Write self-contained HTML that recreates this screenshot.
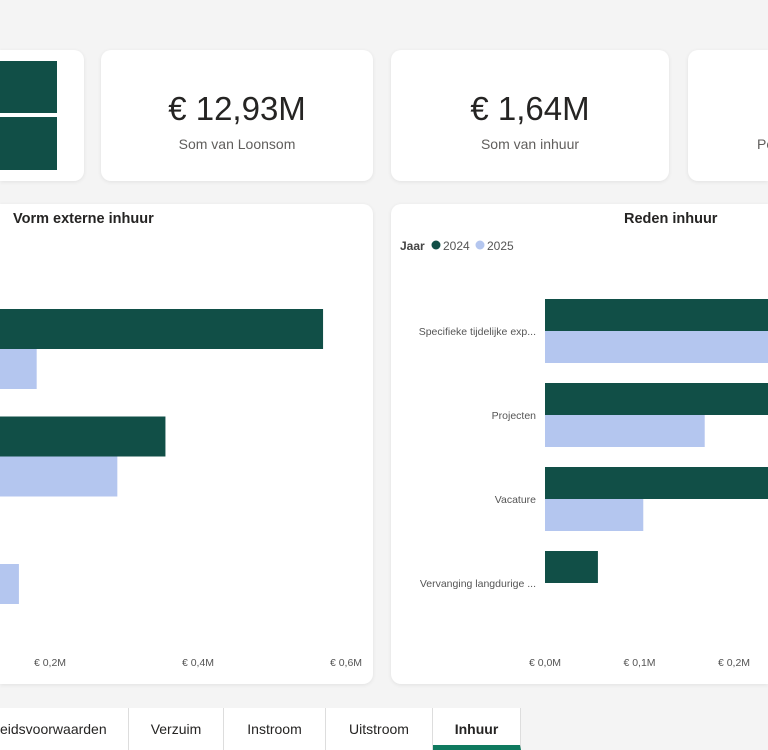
<!DOCTYPE html>
<html><head><meta charset="utf-8"><style>
body{margin:0;width:768px;height:750px;overflow:hidden;background:#f4f4f4;font-family:"Liberation Sans",sans-serif;position:relative}
.card{position:absolute;background:#fff;border-radius:10px;box-shadow:0 1px 4px rgba(0,0,0,0.08);overflow:hidden}
.big{position:absolute;width:100%;text-align:center;top:40px;font-size:33px;color:#252423}
.sub{position:absolute;width:100%;text-align:center;top:86px;font-size:14px;color:#605e5c}
.tab{position:absolute;top:708px;height:42px;line-height:42px;text-align:center;font-size:14px;color:#252423;background:#fff;border-right:1px solid #ddd;box-sizing:border-box;overflow:hidden;white-space:nowrap}
</style></head><body>
<div class="card" style="left:0;top:50px;width:84px;height:131px;border-radius:0 10px 10px 0">
 <div style="position:absolute;left:0;top:11px;width:57px;height:52px;background:#114f47"></div>
 <div style="position:absolute;left:0;top:67px;width:57px;height:53px;background:#114f47"></div>
</div>
<div class="card" style="left:101px;top:50px;width:272px;height:131px"><div class="big">€ 12,93M</div><div class="sub">Som van Loonsom</div></div>
<div class="card" style="left:391px;top:50px;width:278px;height:131px"><div class="big">€ 1,64M</div><div class="sub">Som van inhuur</div></div>
<div class="card" style="left:688px;top:50px;width:80px;height:131px;border-radius:10px 0 0 10px"><div class="sub" style="left:69px;text-align:left">Pe</div></div>
<div class="card" style="left:0;top:204px;width:373px;height:480px;border-radius:0 10px 10px 0"></div>
<div class="card" style="left:391px;top:204px;width:377px;height:480px;border-radius:10px 0 0 10px"></div>
<svg id="svg" width="768" height="750" style="position:absolute;left:0;top:0">
 <text x="13" y="223" font-size="14.5" font-weight="bold" fill="#252423">Vorm externe inhuur</text>
 <text x="624" y="223" font-size="14.5" font-weight="bold" fill="#252423">Reden inhuur</text>
 <g font-size="12">
  <text x="400" y="250" font-weight="bold" fill="#444">Jaar</text>
  <circle cx="436" cy="245" r="4.5" fill="#114f47"/><text x="443" y="250" fill="#555">2024</text>
  <circle cx="480" cy="245" r="4.5" fill="#b4c6ef"/><text x="487" y="250" fill="#555">2025</text>
 </g>
 <g id="left"></g><g id="right"></g>
</svg>
<div class="tab" style="left:0;width:129px;text-align:right;padding-right:24px">eidsvoorwaarden</div>
<div class="tab" style="left:129px;width:95px">Verzuim</div>
<div class="tab" style="left:224px;width:102px">Instroom</div>
<div class="tab" style="left:326px;width:107px">Uitstroom</div>
<div class="tab" style="left:433px;width:88px;font-weight:bold;border-bottom:5px solid #0f7a5f">Inhuur</div>
<script>
const NS="http://www.w3.org/2000/svg";
const vormCats=["A","B","C"];
const vorm2024=[0.569,0.356,0.1];
const vorm2025=[0.182,0.291,0.158];
const vormTicks=[0.2,0.4,0.6];
const vormTickLabels=["€ 0,2M","€ 0,4M","€ 0,6M"];
const redenCats=["Specifieke tijdelijke exp...","Projecten","Vacature","Vervanging langdurige ..."];
const reden2024=[0.4,0.35,0.33,0.056];
const reden2025=[0.3,0.169,0.104,0];
const redenTicks=[0,0.1,0.2];
const redenTickLabels=["€ 0,0M","€ 0,1M","€ 0,2M"];
function mk(t,a,p){const e=document.createElementNS(NS,t);for(const k in a)e.setAttribute(k,a[k]);p.appendChild(e);return e;}
function draw(g,cats,s1,s2,ticks,labels,x0,pxPer,y0,step,bh,showCats,name,xmin,xmax){
 const x=v=>x0+v*pxPer;
 const cx=v=>Math.max(xmin,Math.min(xmax,x(v)));
 cats.forEach((c,i)=>{
  const y=y0+i*step;
  if(s1[i]>0&&cx(s1[i])>cx(0)){const r=mk("rect",{x:cx(0),y:y,width:cx(s1[i])-cx(0),height:bh,fill:"#114f47"},g);
   
   }
  if(s2[i]>0&&cx(s2[i])>cx(0)){const r=mk("rect",{x:cx(0),y:y+bh,width:cx(s2[i])-cx(0),height:bh,fill:"#b4c6ef"},g);
   
   }
  if(showCats){const t=mk("text",{x:536,y:y+bh+4,"text-anchor":"end","font-size":"10.5",fill:"#555"},g);t.textContent=c;
   
   }
 });
 ticks.forEach((v,i)=>{const t=mk("text",{x:x(v),y:666,"text-anchor":"middle","font-size":"10.5",fill:"#555"},g);t.textContent=labels[i];
  
  });
}
draw(document.getElementById("left"),vormCats,vorm2024,vorm2025,vormTicks,vormTickLabels,-98,740,309,107.5,40,false,"vorm",0,373);
draw(document.getElementById("right"),redenCats,reden2024,reden2025,redenTicks,redenTickLabels,545,945,299,84,32,true,"reden",391,768);
</script>
</body></html>
